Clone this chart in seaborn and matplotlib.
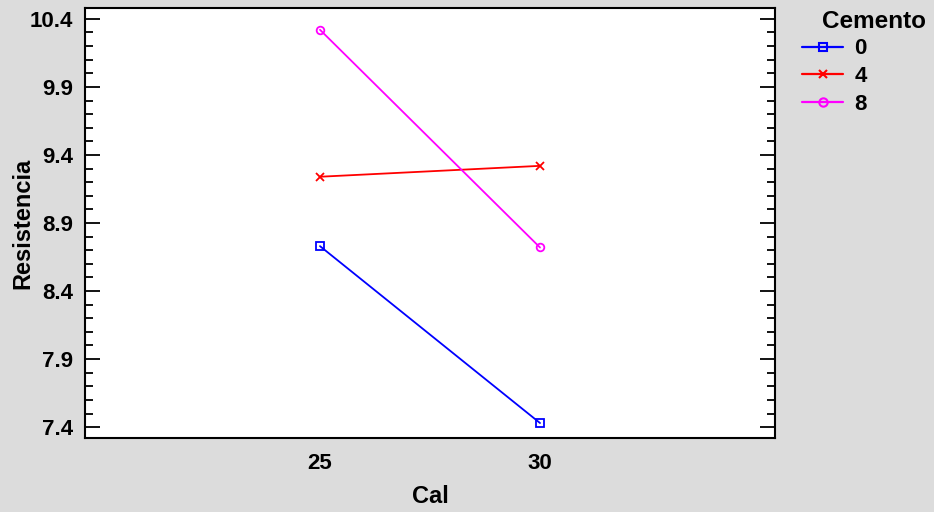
import matplotlib
matplotlib.use("Agg")
import matplotlib.pyplot as plt
import seaborn as sns
import pandas as pd
from matplotlib.ticker import MultipleLocator
from matplotlib.lines import Line2D

cal_levels = [25, 30]
cemento_levels = ["0", "4", "8"]
resist_0 = [8.73, 7.43]
resist_4 = [9.24, 9.32]
resist_8 = [10.32, 8.72]
y_ticks = [7.4, 7.9, 8.4, 8.9, 9.4, 9.9, 10.4]

rows = []
for lvl, vals in zip(cemento_levels, [resist_0, resist_4, resist_8]):
    for c, v in zip(cal_levels, vals):
        rows.append({"Cal": c, "Cemento": lvl, "Resistencia": v})
df = pd.DataFrame(rows)

sns.set_theme(style="white")
plt.rcParams["font.family"] = ["Liberation Sans", "DejaVu Sans"]
plt.rcParams["font.weight"] = "bold"
for k in ["text.color", "axes.labelcolor", "xtick.color", "ytick.color"]:
    plt.rcParams[k] = "black"

bg = "#dcdcdc"
fig = plt.figure(figsize=(9.34, 5.12), dpi=100, facecolor=bg)
ax = fig.add_axes([85 / 934, 1 - 438 / 512, 690 / 934, 430 / 512])
ax.set_facecolor("white")

palette = {"0": "#0000ff", "4": "#ff0000", "8": "#ff00ff"}
markers = {"0": "s", "4": "x", "8": "o"}
for lvl in cemento_levels:
    sub = df[df["Cemento"] == lvl]
    sns.lineplot(data=sub, x="Cal", y="Resistencia", color=palette[lvl],
                 marker=markers[lvl], markerfacecolor="none",
                 markeredgecolor=palette[lvl], markeredgewidth=1.3,
                 markersize=5.5, linewidth=1.3, ax=ax, legend=False)

ax.set_xlim(19.66, 35.34)
ax.set_ylim(7.32, 10.48)
ax.set_xticks(cal_levels)
ax.set_xticklabels([str(c) for c in cal_levels])
ax.set_yticks(y_ticks)
ax.set_yticklabels([f"{t:.1f}" for t in y_ticks])
ax.yaxis.set_minor_locator(MultipleLocator(0.1))
ax.tick_params(axis="y", which="major", direction="in", length=11, width=1.3,
               left=True, right=True, labelsize=16, pad=8.5)
ax.tick_params(axis="y", which="minor", direction="in", length=6, width=1.3,
               left=True, right=True)
ax.tick_params(axis="x", which="both", length=0, labelsize=16, pad=11)
for lab in ax.get_xticklabels() + ax.get_yticklabels():
    lab.set_fontweight("bold")
for s in ax.spines.values():
    s.set_color("black")
    s.set_linewidth(1.5)

ax.set_xlabel("Cal", fontsize=17, fontweight="bold", labelpad=7.5)
ax.set_ylabel("Resistencia", fontsize=17, fontweight="bold")
ax.yaxis.set_label_coords((23 - 85) / 690, 0.5)
ax.yaxis.label.set_va("center")

fig.text(874 / 934, 1 - 21 / 512, "Cemento", ha="center", va="center",
         fontsize=17.5, fontweight="bold")
handles = [Line2D([], [], color=palette[k], marker=markers[k], markerfacecolor="none",
                  markeredgewidth=1.5, markersize=6, linewidth=1.6) for k in cemento_levels]
leg = fig.legend(handles, cemento_levels, loc="upper left",
                 bbox_to_anchor=(802 / 934, 1 - 38.5 / 512), frameon=False,
                 prop={"size": 16, "weight": "bold"}, handlelength=1.85,
                 handletextpad=0.5, labelspacing=0.3, borderaxespad=0, borderpad=0)

fig.savefig("out.png", dpi=100, facecolor=bg)
